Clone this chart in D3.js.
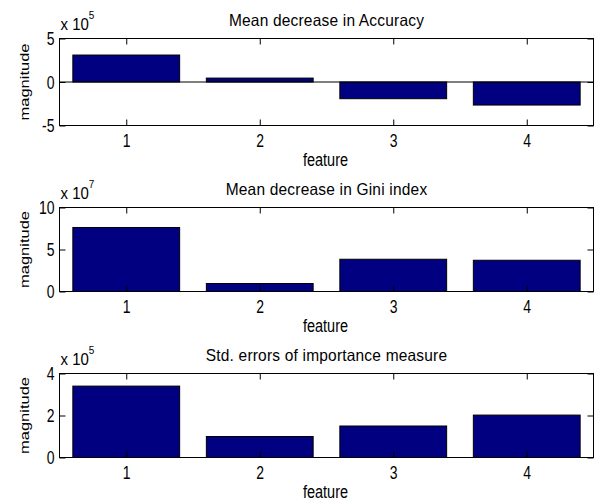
<!DOCTYPE html>
<html>
<head>
<meta charset="utf-8">
<script src="https://cdn.jsdelivr.net/npm/d3@7"></script>
<style>
  html, body { margin: 0; padding: 0; background: #fff; }
  svg { display: block; font-family: "Liberation Sans", Arial, sans-serif; }
  text { fill: #000; }
</style>
</head>
<body>
<svg id="chart" width="597" height="504"></svg>
<script>
// Feature indices on the x axis
const features = [1, 2, 3, 4];

// Mean decrease in Accuracy (in units of 10^5)
const accuracyValues = [3.1, 0.45, -1.92, -2.65];
const accuracyTicks = [-5, 0, 5];

// Mean decrease in Gini index (in units of 10^7)
const giniValues = [7.62, 0.95, 3.84, 3.72];
const giniTicks = [0, 5, 10];

// Std. errors of importance measure (in units of 10^5)
const stdErrValues = [3.4, 1.0, 1.5, 2.02];
const stdErrTicks = [0, 2, 4];

const panels = [
  { title: "Mean decrease in Accuracy", exponent: "5", values: accuracyValues, ticks: accuracyTicks, top: 38.5, bottom: 125.5 },
  { title: "Mean decrease in Gini index", exponent: "7", values: giniValues, ticks: giniTicks, top: 207.5, bottom: 291.5 },
  { title: "Std. errors of importance measure", exponent: "5", values: stdErrValues, ticks: stdErrTicks, top: 373.5, bottom: 457.5 }
];

const svg = d3.select("#chart");
const left = 59.5, right = 593.5;
const barFill = "#000080";
const tall = 1.28;   // glyphs are drawn slightly elongated vertically
const intLabel = d => String(d);   // plain hyphen for negatives

const x = d3.scaleLinear().domain([0.5, 4.5]).range([left, right]);
const barWidth = x(0.8) - x(0);

panels.forEach(p => {
  const y = d3.scaleLinear()
    .domain(d3.extent(p.ticks))
    .range([p.bottom, p.top]);

  const g = svg.append("g");

  // bars
  g.selectAll("rect.bar")
    .data(features.map((f, i) => ({ f, v: p.values[i] })))
    .join("rect")
    .attr("class", "bar")
    .attr("x", d => x(d.f) - barWidth / 2)
    .attr("width", barWidth)
    .attr("y", d => y(Math.max(0, d.v)))
    .attr("height", d => Math.abs(y(d.v) - y(0)))
    .attr("fill", barFill)
    .attr("stroke", "#000")
    .attr("stroke-width", 1);

  // baseline at zero
  g.append("line")
    .attr("x1", left).attr("x2", right)
    .attr("y1", y(0)).attr("y2", y(0))
    .attr("stroke", "#000");

  // inward ticks on all four sides
  const tickLen = 6;
  const axB = g.append("g").attr("transform", `translate(0,${p.bottom})`)
    .call(d3.axisBottom(x).tickValues(features).tickSize(-tickLen).tickFormat(intLabel));
  const axT = g.append("g").attr("transform", `translate(0,${p.top})`)
    .call(d3.axisTop(x).tickValues(features).tickSize(-tickLen).tickFormat(""));
  const axL = g.append("g").attr("transform", `translate(${left},0)`)
    .call(d3.axisLeft(y).tickValues(p.ticks).tickSize(-tickLen).tickFormat(intLabel));
  const axR = g.append("g").attr("transform", `translate(${right},0)`)
    .call(d3.axisRight(y).tickValues(p.ticks).tickSize(-tickLen).tickFormat(""));

  [axB, axT, axL, axR].forEach(a => {
    a.select(".domain").remove();
    a.selectAll("line").attr("stroke", "#000");
    a.attr("font-family", null).attr("font-size", null);
  });

  axB.selectAll("text")
    .attr("dy", null)
    .attr("y", 0)
    .attr("transform", `translate(0,21) scale(1,${tall})`)
    .style("font-size", "14px");
  axL.selectAll("text")
    .attr("dy", "0.36em")
    .attr("x", -5)
    .attr("transform", `scale(1,${tall})`)
    .style("font-size", "14px");

  // plot box
  g.append("rect")
    .attr("x", left).attr("y", p.top)
    .attr("width", right - left).attr("height", p.bottom - p.top)
    .attr("fill", "none").attr("stroke", "#000");

  // title
  g.append("text")
    .attr("transform", `translate(${(left + right) / 2},${p.top - 12.5}) scale(1,1.05)`)
    .attr("text-anchor", "middle")
    .style("font-size", "15.5px")
    .style("letter-spacing", "0.2px")
    .text(p.title);

  // exponent multiplier
  const mult = g.append("text")
    .attr("transform", `translate(${left + 1},${p.top - 8.5}) scale(1,1.1)`)
    .style("font-size", "15px");
  mult.append("tspan").text("x 10");
  mult.append("tspan")
    .attr("dy", -10)
    .style("font-size", "10px")
    .text(p.exponent);

  // axis labels
  g.append("text")
    .attr("transform", `translate(${(left + right) / 2 - 1},${p.bottom + 40.5}) scale(1,1.25)`)
    .attr("text-anchor", "middle")
    .style("font-size", "14.5px")
    .text("feature");

  g.append("text")
    .attr("transform", `translate(28.5,${(p.top + p.bottom) / 2}) rotate(-90) scale(1.32,1)`)
    .attr("text-anchor", "middle")
    .style("font-size", "12.5px")
    .text("magnitude");
});
</script>
</body>
</html>
